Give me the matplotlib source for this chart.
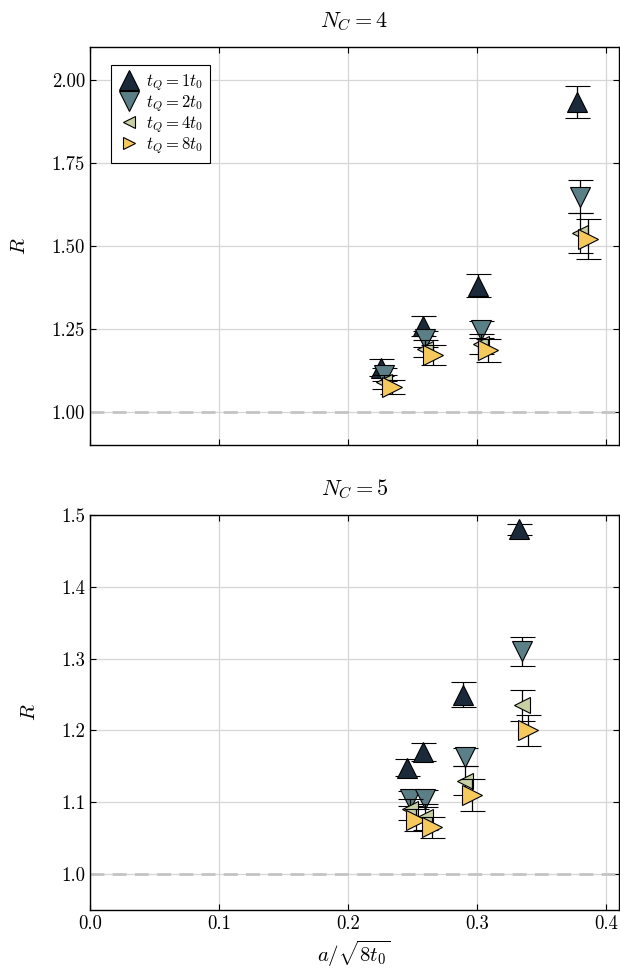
import numpy as np
import matplotlib
matplotlib.use("Agg")
import matplotlib.pyplot as plt
from matplotlib.lines import Line2D

plt.rcParams['font.family'] = 'serif'
plt.rcParams['font.serif'] = ['cmr10', 'DejaVu Serif']
plt.rcParams['mathtext.fontset'] = 'cm'
plt.rcParams['axes.formatter.use_mathtext'] = True

labels = [r"$t_Q = 1t_0$", r"$t_Q = 2t_0$", r"$t_Q = 4t_0$", r"$t_Q = 8t_0$"]
colors = ["#1b2a3b", "#5a7f86", "#c6d0a2", "#f5c95b"]
markers = ["^", "v", "<", ">"]
msizes = [14, 14, 11, 14]
leg_sizes = [15, 15, 8, 9]

# N_C = 4
x4 = [
    [0.226, 0.258, 0.301, 0.378],
    [0.228, 0.260, 0.303, 0.380],
    [0.228, 0.260, 0.303, 0.380],
    [0.234, 0.266, 0.309, 0.386],
]
r4 = [
    [1.133, 1.258, 1.380, 1.935],
    [1.112, 1.220, 1.248, 1.648],
    [1.090, 1.190, 1.205, 1.540],
    [1.075, 1.172, 1.185, 1.520],
]
e4 = [
    [0.025, 0.030, 0.035, 0.048],
    [0.020, 0.025, 0.025, 0.050],
    [0.020, 0.025, 0.030, 0.060],
    [0.022, 0.030, 0.035, 0.060],
]

# N_C = 5
x5 = [
    [0.246, 0.258, 0.289, 0.333],
    [0.248, 0.260, 0.291, 0.335],
    [0.248, 0.260, 0.291, 0.335],
    [0.253, 0.265, 0.296, 0.340],
]
r5 = [
    [1.148, 1.170, 1.250, 1.480],
    [1.105, 1.105, 1.163, 1.310],
    [1.090, 1.080, 1.130, 1.235],
    [1.075, 1.065, 1.110, 1.200],
]
e5 = [
    [0.012, 0.012, 0.018, 0.008],
    [0.010, 0.012, 0.012, 0.020],
    [0.015, 0.018, 0.020, 0.022],
    [0.015, 0.015, 0.022, 0.022],
]

fig = plt.figure(figsize=(6.2, 9.69), dpi=100)
ax1 = fig.add_axes([0.145, 0.5408, 0.853, 0.4107])
ax2 = fig.add_axes([0.145, 0.0609, 0.853, 0.4076])


def draw(ax, xs, rs, es, title):
    ax.axhline(1.0, color="#c4c4c4", ls=(0, (5, 3)), lw=2, zorder=1)
    for i in range(4):
        ax.errorbar(xs[i], rs[i], yerr=es[i], fmt=markers[i], ms=msizes[i],
                    mfc=colors[i], mec="black", mew=0.8, ecolor="black",
                    elinewidth=0.9, capsize=9, capthick=0.9, zorder=3 + i)
    ax.set_title(title, fontsize=16, pad=14)
    ax.set_ylabel(r"$R$", fontsize=15, labelpad=16)
    ax.grid(True, color="#d6d6d6", lw=0.9)
    ax.set_axisbelow(True)
    ax.set_xlim(0, 0.41)
    ax.set_xticks([0.0, 0.1, 0.2, 0.3, 0.4])
    ax.tick_params(direction="in", top=True, right=True, labelsize=13.5, length=4)
    for s in ax.spines.values():
        s.set_linewidth(1.0)


draw(ax1, x4, r4, e4, r"$N_C = 4$")
ax1.set_ylim(0.9, 2.1)
ax1.set_yticks([1.0, 1.25, 1.5, 1.75, 2.0])
ax1.set_yticklabels(["1.00", "1.25", "1.50", "1.75", "2.00"])
ax1.set_xticklabels([])

handles = [Line2D([], [], ls="none", marker=markers[i], ms=leg_sizes[i],
                  mfc=colors[i], mec="black", mew=0.8) for i in range(4)]
leg = ax1.legend(handles, labels, loc="upper left", fontsize=12, frameon=True,
                 fancybox=False, edgecolor="black", handletextpad=0.4,
                 labelspacing=0.02, borderpad=0.4, handlelength=1.3,
                 bbox_to_anchor=(0.025, 0.975), framealpha=1)
leg.get_frame().set_linewidth(0.8)

draw(ax2, x5, r5, e5, r"$N_C = 5$")
ax2.set_ylim(0.95, 1.5)
ax2.set_yticks([1.0, 1.1, 1.2, 1.3, 1.4, 1.5])
ax2.set_yticklabels(["1.0", "1.1", "1.2", "1.3", "1.4", "1.5"])
ax2.set_xticklabels(["0.0", "0.1", "0.2", "0.3", "0.4"])
ax2.set_xlabel(r"$a/\sqrt{8t_0}$", fontsize=15)

fig.savefig("out.png", dpi=100)
